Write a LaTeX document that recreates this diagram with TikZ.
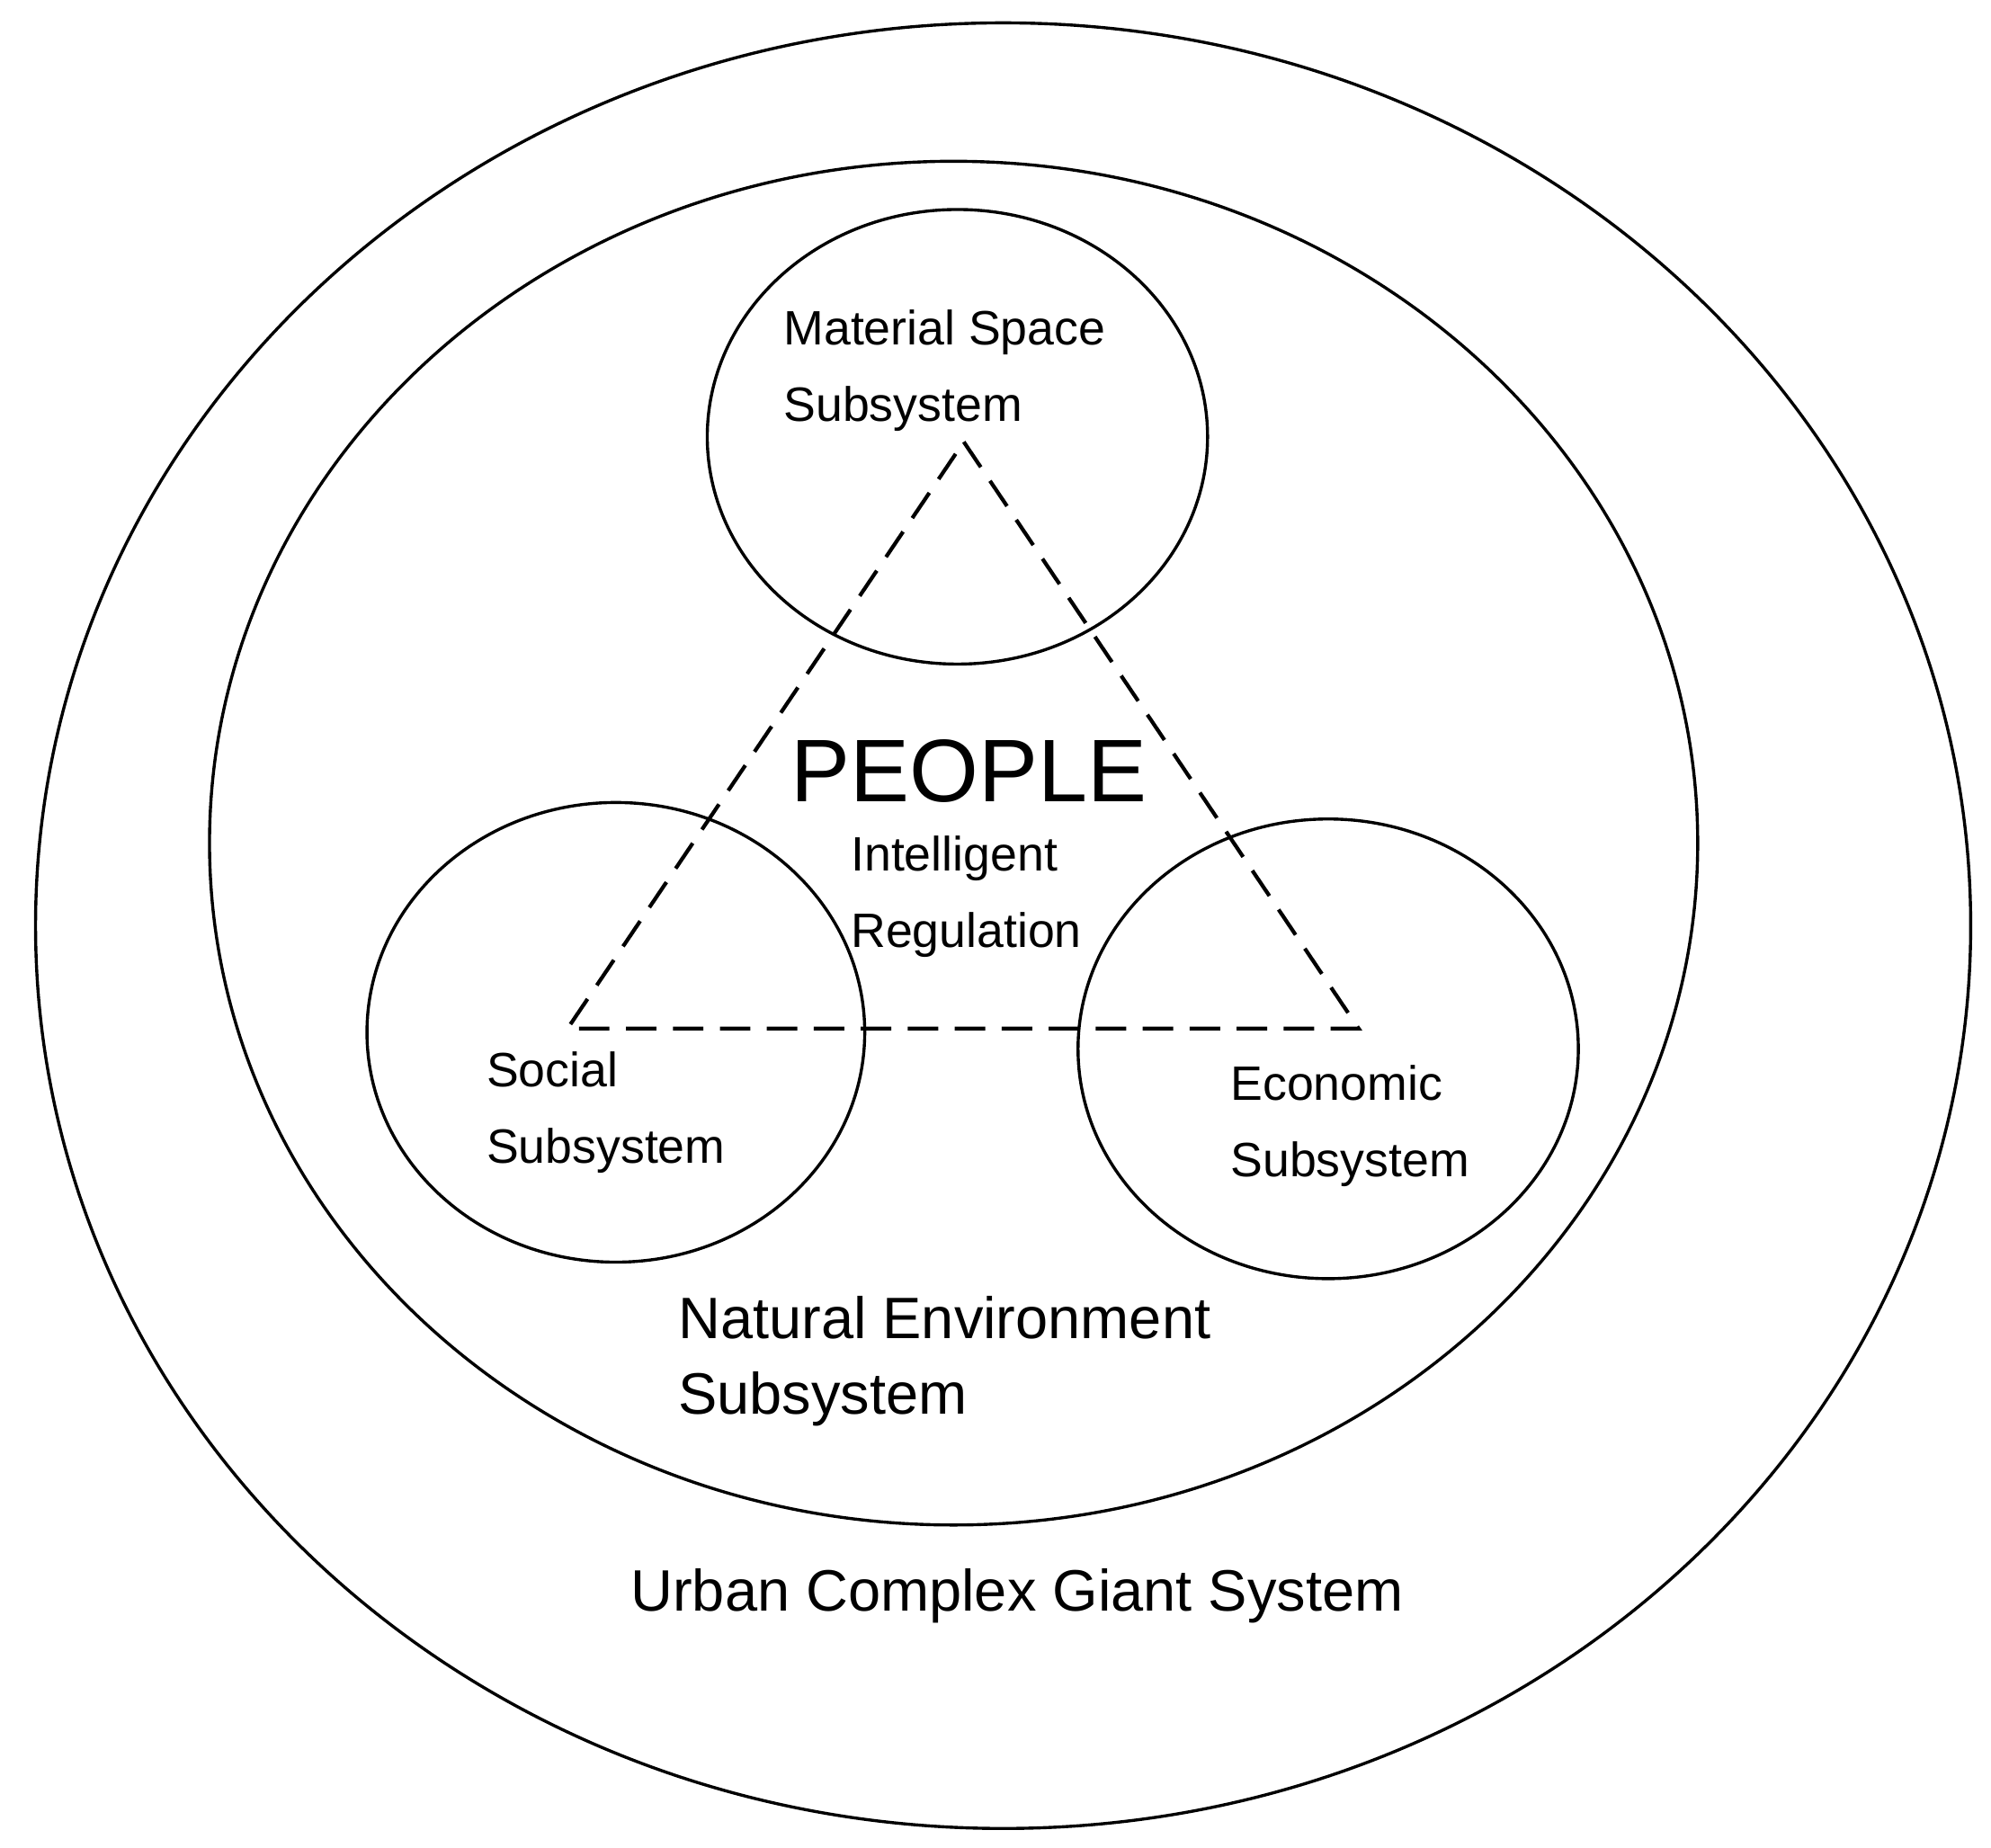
\documentclass[tikz,border=0pt]{standalone}
\usetikzlibrary{shapes.geometric}
\usepackage{fontspec}
\setmainfont{Liberation Sans}
\begin{document}
\begin{tikzpicture}[x=1pt,y=-1pt,
  ring/.style={draw,line width=2.4pt},
  lbl/.style={anchor=west,align=left,inner sep=0pt,font=\fontsize{38}{60}\selectfont},
  big/.style={anchor=west,align=left,inner sep=0pt,font=\fontsize{46}{60}\selectfont}]
\useasboundingbox (0,0) rectangle (1568,1455);
\draw[ring] (790,729) ellipse [x radius=762,y radius=711];
\draw[ring] (751,664) ellipse [x radius=586,y radius=537];
\node[ring,ellipse,minimum width=394,minimum height=358,inner sep=0] (mat) at (754,344) {};
\node[ring,ellipse,minimum width=392,minimum height=362,inner sep=0] (soc) at (485,813) {};
\node[ring,ellipse,minimum width=394,minimum height=362,inner sep=0] (eco) at (1046,826) {};
\coordinate (a) at (759,348);
\coordinate (l) at (447,810);
\coordinate (r) at (1070,810);
\draw[line width=3pt,dash pattern=on 24pt off 13pt] (a) -- (r) -- (l) -- cycle;
\node[lbl] (tm) at (617,292) {Material Space\\Subsystem};
\node[font=\fontsize{70}{70}\selectfont,inner sep=0pt] (pe) at (763,607) {PEOPLE};
\node[lbl] (ir) at (670,706) {Intelligent\\Regulation};
\node[lbl] (ts) at (383,876) {Social\\Subsystem};
\node[lbl] (te) at (969,887) {Economic\\Subsystem};
\node[big] (tn) at (534,1072) {Natural Environment\\Subsystem};
\node[font=\fontsize{46}{60}\selectfont,inner sep=0pt] (tu) at (801,1257) {Urban Complex Giant System};
\end{tikzpicture}
\end{document}
